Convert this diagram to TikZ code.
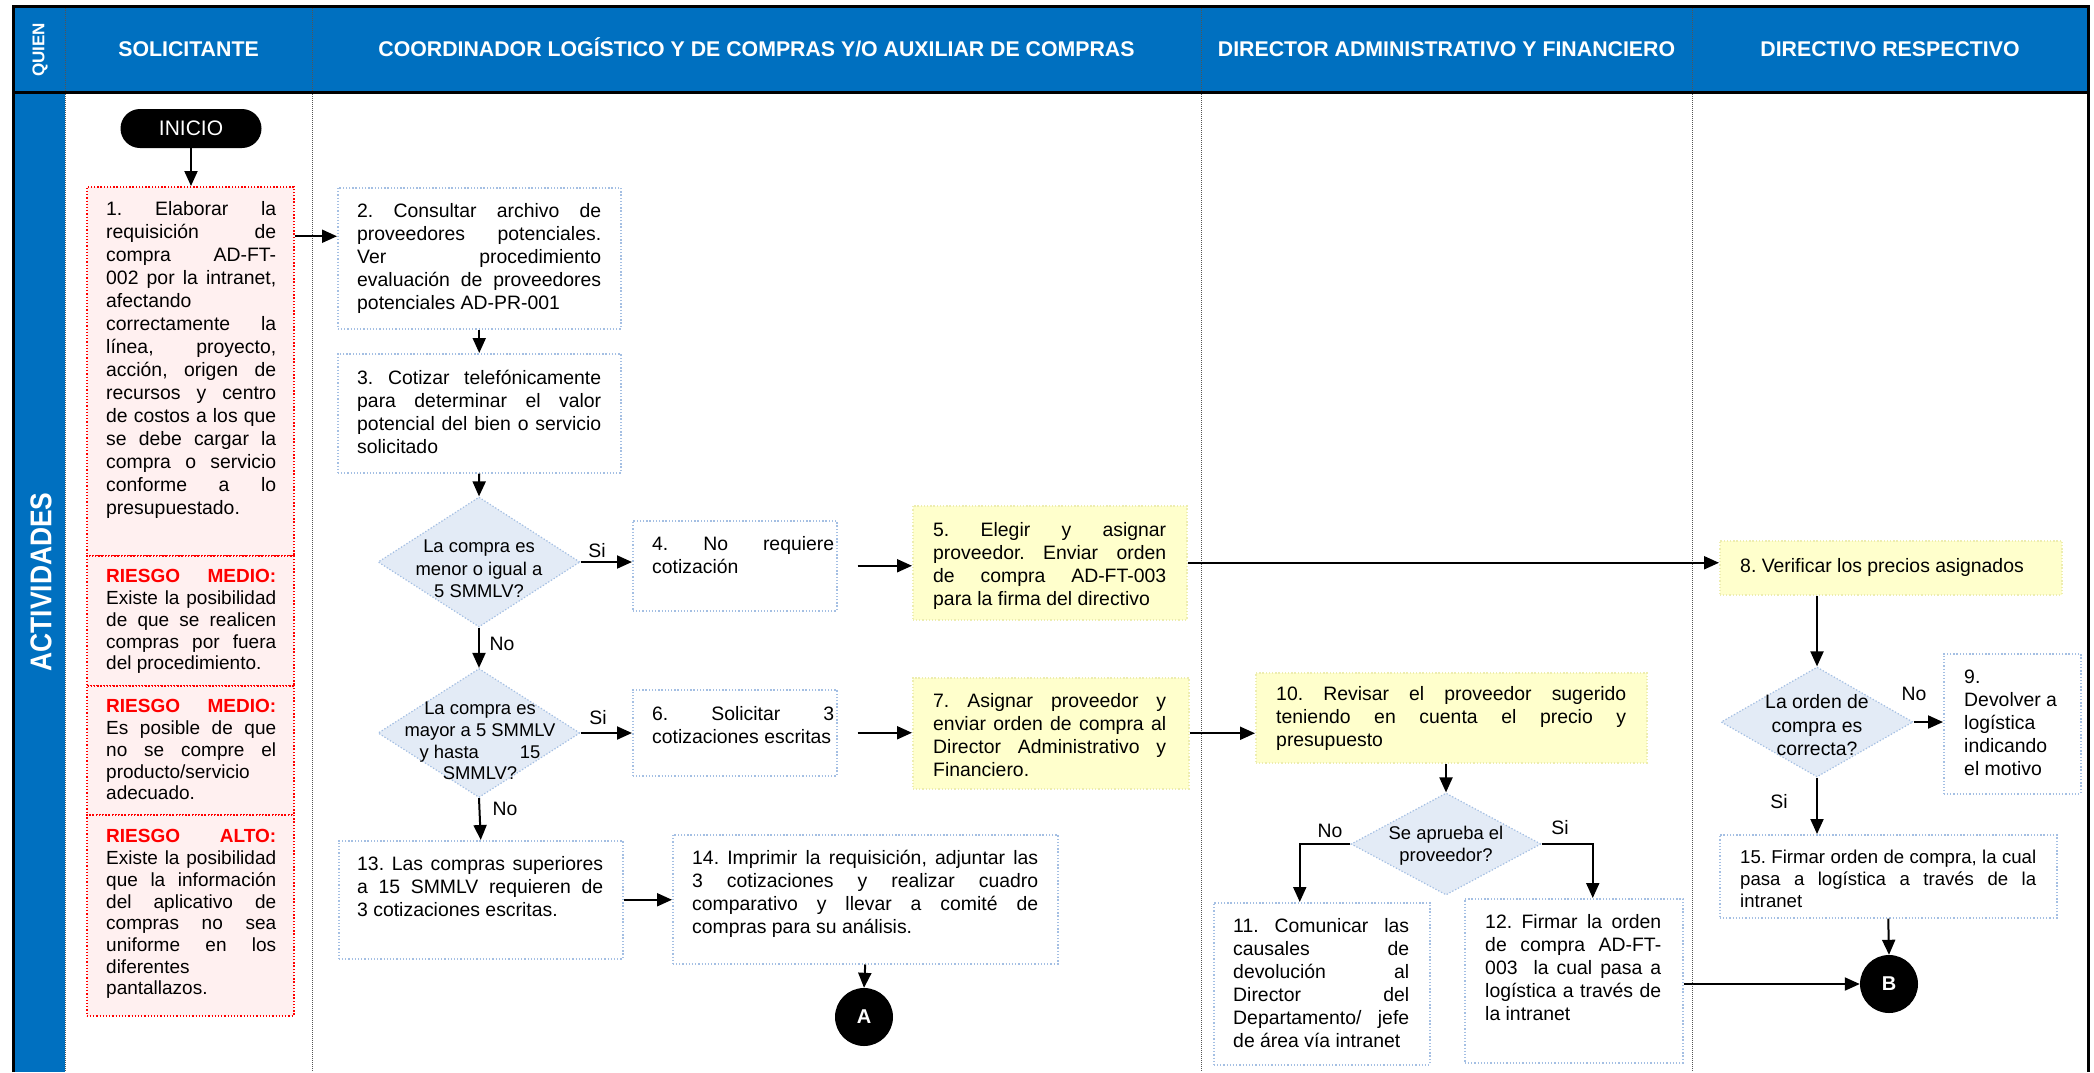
\documentclass[tikz,border=0pt]{standalone}
\usepackage{fontspec}
\usepackage{graphicx}
\setmainfont{Liberation Sans}
\usetikzlibrary{arrows.meta,shapes.geometric}
\definecolor{hdrblue}{HTML}{0070C0}
\definecolor{pinkfill}{HTML}{FFF0F0}
\definecolor{yelfill}{HTML}{FFFFCC}
\definecolor{yelline}{HTML}{EDEDB0}
\definecolor{bluline}{HTML}{A4BFE3}
\definecolor{diafill}{HTML}{E3EBF6}
\definecolor{sepgray}{HTML}{555555}
\tikzset{
  arr/.style={line width=2pt,-{Triangle[length=15pt,width=13pt]}},
  sepline/.style={sepgray, line width=1pt, dash pattern=on 1pt off 1pt},
  boxbase/.style={line width=1.5pt, dash pattern=on 1.3pt off 1.9pt, inner sep=0, anchor=north west},
  wbox/.style={boxbase, draw=bluline, fill=white},
  ybox/.style={boxbase, draw=yelline, fill=yelfill},
  pbox/.style={boxbase, draw=red, fill=pinkfill},
  dec/.style={diamond, draw=bluline, line width=1.2pt, dash pattern=on 1.3pt off 1.9pt, fill=diafill, inner sep=0},
  txt/.style={inner sep=0, anchor=north west, align=justify, font=\fontsize{19.4}{23}\selectfont,
     execute at begin node={\frenchspacing\tolerance=10000\hbadness=10000\hyphenpenalty=10000\exhyphenpenalty=10000}},
  rtxt/.style={txt, font=\fontsize{19}{21.7}\selectfont},
  ltxt/.style={inner sep=0, anchor=north west, align=left, font=\fontsize{19.4}{23}\selectfont},
  dtxt/.style={inner sep=0, anchor=north, align=center},
  lbl/.style={inner sep=0, anchor=base, font=\fontsize{19.4}{23}\selectfont},
  hdr/.style={inner sep=0, anchor=base, text=white, font=\bfseries\fontsize{21.3}{24}\selectfont},
  conn/.style={circle, fill=black, minimum size=58pt, inner sep=0, text=white, font=\bfseries\fontsize{20}{20}\selectfont},
}
\newcommand{\rsk}[1]{\textcolor{red}{\bfseries #1}}
\begin{document}
\frenchspacing
\begin{tikzpicture}[x=1pt,y=-1pt]
\useasboundingbox (0,0) rectangle (2094,1072);
% header and left column
\fill[hdrblue] (13,6) rectangle (2088,92);
\fill[hdrblue] (13,92) rectangle (65,1072);
\foreach \xx in {65,312,1201,1692} \draw[sepline] (\xx,6) -- (\xx,1072);
\draw[line width=3pt] (13,1072) -- (13,6) -- (2088,6) -- (2088,1072);
\draw[line width=3pt] (13,92) -- (2088,92);

\node[rotate=90, inner sep=0, text=white, font=\bfseries\fontsize{17}{17}\selectfont] (quien) at (40,50) {QUIEN};
\node[hdr] (hsol) at (188.5,56) {SOLICITANTE};
\node[hdr] (hcoo) at (756.5,56) {COORDINADOR LOGÍSTICO Y DE COMPRAS Y/O AUXILIAR DE COMPRAS};
\node[hdr] (hdir) at (1446.5,56) {DIRECTOR ADMINISTRATIVO Y FINANCIERO};
\node[hdr] (hdre) at (1890,56) {DIRECTIVO RESPECTIVO};
\node[rotate=90, inner sep=0, text=white, font=\bfseries\fontsize{30}{30}\selectfont] (act) at (41,582) {\scalebox{0.88}[1]{ACTIVIDADES}};

% start
\node[fill=black, rounded corners=19.5pt, minimum width=141pt, minimum height=39pt, inner sep=0, text=white, font=\fontsize{21}{21}\selectfont] (ini) at (191,128.5) {INICIO};

% boxes
\node[pbox, minimum width=207pt, minimum height=369pt] (b1) at (86,186) {};
\node[pbox, minimum width=207pt, minimum height=130pt] (r1) at (86,555) {};
\node[pbox, minimum width=207pt, minimum height=129pt] (r2) at (86,685) {};
\node[pbox, minimum width=207pt, minimum height=201pt] (r3) at (86,814) {};
\node[wbox, minimum width=283pt, minimum height=141pt] (b2) at (337,187) {};
\node[wbox, minimum width=283pt, minimum height=119pt] (b3) at (337,353) {};
\node[wbox, minimum width=204pt, minimum height=90pt] (b4) at (632,520) {};
\node[wbox, minimum width=204pt, minimum height=86pt] (b6) at (632,689) {};
\node[ybox, minimum width=274pt, minimum height=114pt] (b5) at (912,505) {};
\node[ybox, minimum width=276pt, minimum height=111pt] (b7) at (912,677) {};
\node[wbox, minimum width=284pt, minimum height=118pt] (b13) at (338,840) {};
\node[wbox, minimum width=385pt, minimum height=129pt] (b14) at (672,834) {};
\node[ybox, minimum width=391pt, minimum height=90pt] (b10) at (1255,672) {};
\node[wbox, minimum width=216pt, minimum height=162pt] (b11) at (1213,902) {};
\node[wbox, minimum width=218pt, minimum height=164pt] (b12) at (1464,898) {};
\node[ybox, minimum width=342pt, minimum height=54pt] (b8) at (1719,540) {};
\node[wbox, minimum width=137pt, minimum height=140pt] (b9) at (1943,653) {};
\node[wbox, minimum width=337pt, minimum height=83pt] (b15) at (1719,834) {};

% decisions
\node[dec, minimum width=202pt, minimum height=130pt] (d1) at (479,562) {};
\node[dec, minimum width=202pt, minimum height=129pt] (d2) at (479,733) {};
\node[dec, minimum width=190pt, minimum height=102pt] (d3) at (1446,844) {};
\node[dec, minimum width=192pt, minimum height=110pt] (d4) at (1817,722) {};

% connectors
\node[conn] (A) at (864,1017) {A};
\node[conn] (B) at (1889,984) {B};
\coordinate (c12) at ([yshift=22pt]b2.west);
\draw[arr] (ini.south) -- (ini.south |- b1.north);
\draw[arr] (c12 -| b1.east) -- (c12);
\draw[arr] (b2.south) -- (b3.north);
\draw[arr] (b3.south) -- (d1.north);
\draw[arr] (d1.east) -- (d1.east -| b4.west);
\draw[arr] (d1.south) -- (d2.north);
\draw[arr] (d2.east) -- (d2.east -| b6.west);
\draw[arr] (d2.south) -- (b13.north);
\draw[arr] ([xshift=20pt]b4.east) -- (b4.east -| b5.west);
\draw[arr] ([xshift=20pt]b6.east) -- (b6.east -| b7.west);
\draw[arr] (b13.east) -- (b13.east -| b14.west);
\draw[arr] (b14.south) -- (A.north);
\draw[arr] (b5.east) -- (b5.east -| b8.west);
\draw[arr] (b7.east) -- (b7.east -| b10.west);
\draw[arr] (d3.north |- b10.south) -- (d3.north);
\draw[arr] (d3.west) -| ([xshift=-22pt]b11.north);
\draw[arr] (d3.east) -| ([xshift=19pt]b12.north);
\draw[arr] (b12.east |- B) -- (B.west);
\draw[arr] (d4.north |- b8.south) -- (d4.north);
\draw[arr] (d4.east) -- (d4.east -| b9.west);
\draw[arr] (d4.south) -- (d4.south |- b15.north);
\draw[arr] (b15.south) -- (B.north);

% labels
\node[lbl] (si1) at (597,557) {Si};
\node[lbl] (no1) at (502,650) {No};
\node[lbl] (si2) at (598,724) {Si};
\node[lbl] (no2) at (505,815) {No};
\node[lbl] (no3) at (1330,837) {No};
\node[lbl] (si3) at (1560,834) {Si};
\node[lbl] (no4) at (1914,700) {No};
\node[lbl] (si4) at (1779,808) {Si};

% texts
\node[txt, text width=170pt] (t1) at (106,199) {\strut 1. Elaborar la\linebreak requisición de\linebreak compra AD-FT-\linebreak 002 por la intranet,\linebreak afectando\linebreak correctamente la\linebreak línea, proyecto,\linebreak acción, origen de\linebreak recursos y centro\linebreak de costos a los que\linebreak se debe cargar la\linebreak compra o servicio\linebreak conforme a lo\linebreak presupuestado.};
\node[rtxt, text width=170pt] (tr1) at (106,567.5) {\strut\rsk{RIESGO MEDIO:}\linebreak Existe la posibilidad\linebreak de que se realicen\linebreak compras por fuera\linebreak del procedimiento.};
\node[rtxt, text width=170pt] (tr2) at (106,697.5) {\strut\rsk{RIESGO MEDIO:}\linebreak Es posible de que\linebreak no se compre el\linebreak producto/servicio\linebreak adecuado.};
\node[rtxt, text width=170pt] (tr3) at (106,827.5) {\strut\rsk{RIESGO ALTO:}\linebreak Existe la posibilidad\linebreak que la información\linebreak del aplicativo de\linebreak compras no sea\linebreak uniforme en los\linebreak diferentes\linebreak pantallazos.};
\node[txt, text width=244pt] (t2) at (357,200.7) {\strut 2. Consultar archivo de\linebreak proveedores potenciales.\linebreak Ver procedimiento\linebreak evaluación de proveedores\linebreak potenciales AD-PR-001};
\node[txt, text width=244pt] (t3) at (357,367.7) {\strut 3. Cotizar telefónicamente\linebreak para determinar el valor\linebreak potencial del bien o servicio\linebreak solicitado};
\node[txt, text width=182pt] (t4) at (652,533.7) {\strut 4. No requiere\linebreak cotización};
\node[txt, text width=182pt] (t6) at (652,703.7) {\strut 6. Solicitar 3\linebreak cotizaciones escritas};
\node[txt, text width=233pt] (t5) at (933,519.7) {\strut 5. Elegir y asignar\linebreak proveedor. Enviar orden\linebreak de compra AD-FT-003\linebreak para la firma del directivo};
\node[txt, text width=233pt] (t7) at (933,690.7) {\strut 7. Asignar proveedor y\linebreak enviar orden de compra al\linebreak Director Administrativo y\linebreak Financiero.};
\node[txt, text width=246pt] (t13) at (357,853.7) {\strut 13. Las compras superiores\linebreak a 15 SMMLV requieren de\linebreak 3 cotizaciones escritas.};
\node[txt, text width=346pt] (t14) at (692,847.7) {\strut 14. Imprimir la requisición, adjuntar las\linebreak 3 cotizaciones y realizar cuadro\linebreak comparativo y llevar a comité de\linebreak compras para su análisis.};
\node[txt, text width=350pt] (t10) at (1276,683.7) {\strut 10. Revisar el proveedor sugerido\linebreak teniendo en cuenta el precio y\linebreak presupuesto};
\node[txt, text width=176pt] (t11) at (1233,915.7) {\strut 11. Comunicar las\linebreak causales de\linebreak devolución al\linebreak Director del\linebreak Departamento/ jefe\linebreak de área vía intranet};
\node[txt, text width=176pt] (t12) at (1485,911.7) {\strut 12. Firmar la orden\linebreak de compra AD-FT-\linebreak 003\ \ la cual pasa a\linebreak logística a través de\linebreak la intranet};
\node[ltxt] (t8) at (1740,555.7) {\strut 8. Verificar los precios asignados};
\node[ltxt] (t9) at (1964,666.7) {\strut 9.\\Devolver a\\logística\\indicando\\el motivo};
\node[txt, text width=296pt, font=\fontsize{18.6}{21.7}\selectfont] (t15) at (1740,848.3) {\strut 15. Firmar orden de compra, la cual\linebreak pasa a logística a través de la\linebreak intranet};

\node[dtxt, font=\fontsize{18.4}{22.5}\selectfont] (d1t) at (479,536.7) {\strut La compra es\\menor o igual a\\5 SMMLV?};
\node[dtxt, font=\fontsize{18.4}{21.7}\selectfont] (d2t) at (480,699.2) {\strut La compra es\\mayor a 5 SMMLV\\y hasta\hspace{41pt}15\\SMMLV?};
\node[dtxt, font=\fontsize{18.4}{21.5}\selectfont] (d3t) at (1446,824.4) {\strut Se aprueba el\\proveedor?};
\node[dtxt, font=\fontsize{19.4}{23.4}\selectfont] (d4t) at (1817,692.4) {\strut La orden de\\compra es\\correcta?};
\end{tikzpicture}
\end{document}
